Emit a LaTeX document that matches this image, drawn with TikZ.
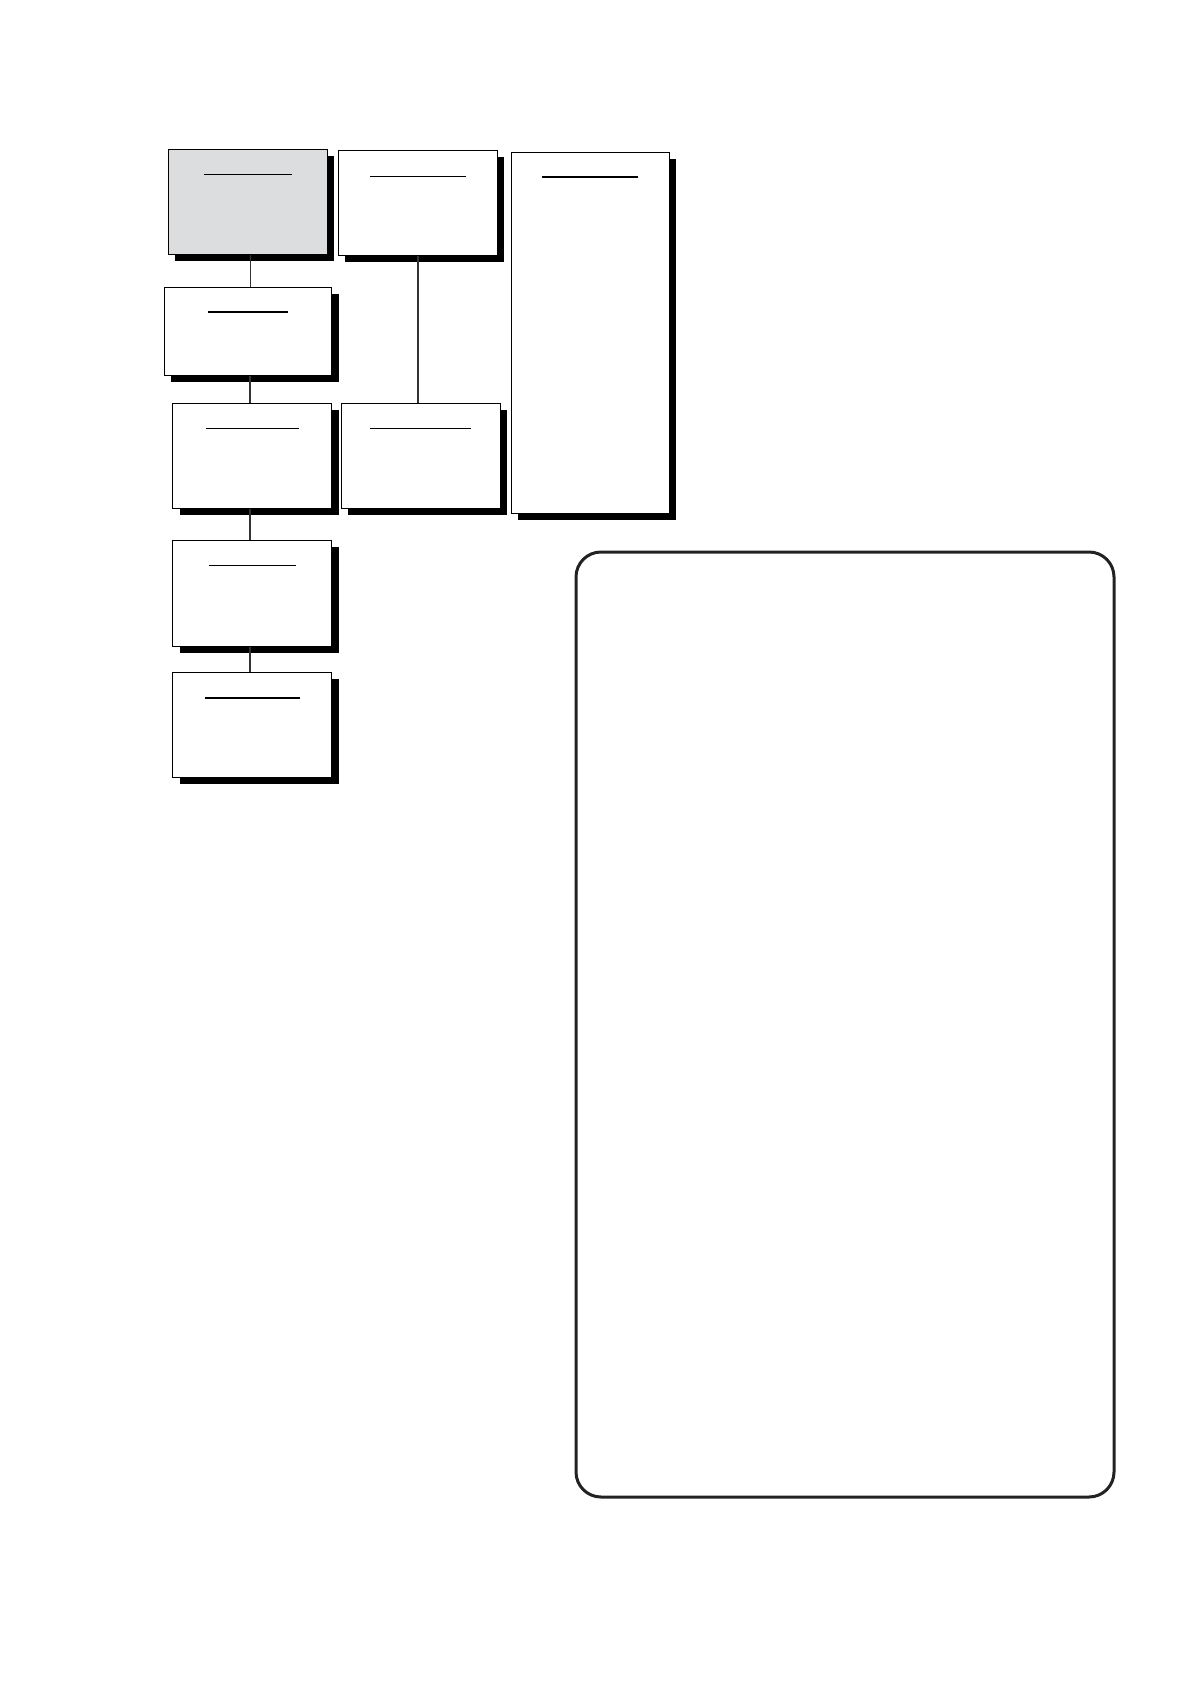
\documentclass[tikz,border=0pt]{standalone}
\usetikzlibrary{shapes.geometric, shadows, positioning, calc}
\definecolor{boxgray}{HTML}{DCDDDE}
\definecolor{framegray}{HTML}{222222}

\begin{document}
\begin{tikzpicture}[x=0.5pt, y=-0.5pt]
% Define styles
\tikzstyle{card} = [rectangle, draw=black, line width=0.5pt, fill=white, minimum width=79.5pt, minimum height=52.5pt, inner sep=0pt, drop shadow={shadow xshift=3.5pt, shadow yshift=-3.5pt, fill=black, opacity=1}]
\tikzstyle{active} = [card, fill=boxgray]
\tikzstyle{rule} = [line width=0.6pt]
\tikzstyle{link} = [draw=black!80, line width=0.7pt]

\useasboundingbox (0,0) rectangle (1190,1684);

% Nodes
\node (start) [active] at (247.8,201.8) {};
\node (plan) [card] at (417.8,202.8) {};
\node (draft) [card, minimum width=83.7pt, minimum height=44pt] at (248,331.3) {};
\node (review) [card] at (252,455.8) {};
\node (check) [card] at (420.5,455.8) {};
\node (notes) [card, minimum width=79pt, minimum height=180.5pt] at (590.3,332.8) {};
\node (final) [card, minimum height=53pt] at (252,593.3) {};
\node (close) [card] at (252,724.8) {};

% Title rules
\draw[rule] ($(start.north)+(-44,26)$) -- ++(88,0);
\draw[rule] ($(plan.north)+(-48,26.4)$) -- ++(96,0);
\draw[rule, line width=1pt] ($(draft.north)+(-40,25.4)$) -- ++(80,0);
\draw[rule] ($(review.north)+(-46.5,26)$) -- ++(93,0);
\draw[rule] ($(check.north)+(-50.5,26)$) -- ++(101,0);
\draw[rule, line width=1pt] ($(notes.north)+(-48,25.7)$) -- ++(96,0);
\draw[rule] ($(final.north)+(-43.5,26)$) -- ++(87,0);
\draw[rule, line width=1pt] ($(close.north)+(-47.5,25.7)$) -- ++(95,0);

% Lines
\draw[link] ([xshift=1.25pt]start.south) -- ([xshift=1.25pt]start.south |- draft.north);
\draw[link] ([xshift=1pt]draft.south) -- ([xshift=1pt]draft.south |- review.north);
\draw[link] ([xshift=-1pt]review.south) -- ([xshift=-1pt]review.south |- final.north);
\draw[link] ([xshift=-1pt]final.south) -- ([xshift=-1pt]final.south |- close.north);
\draw[link] (plan.south) -- (plan.south |- check.north);

% Frame
\node (frame) [draw=framegray, line width=1.5pt, rounded corners=12.5pt, minimum width=269pt, minimum height=472.5pt] at (845,1024.5) {};
\end{tikzpicture}
\end{document}
